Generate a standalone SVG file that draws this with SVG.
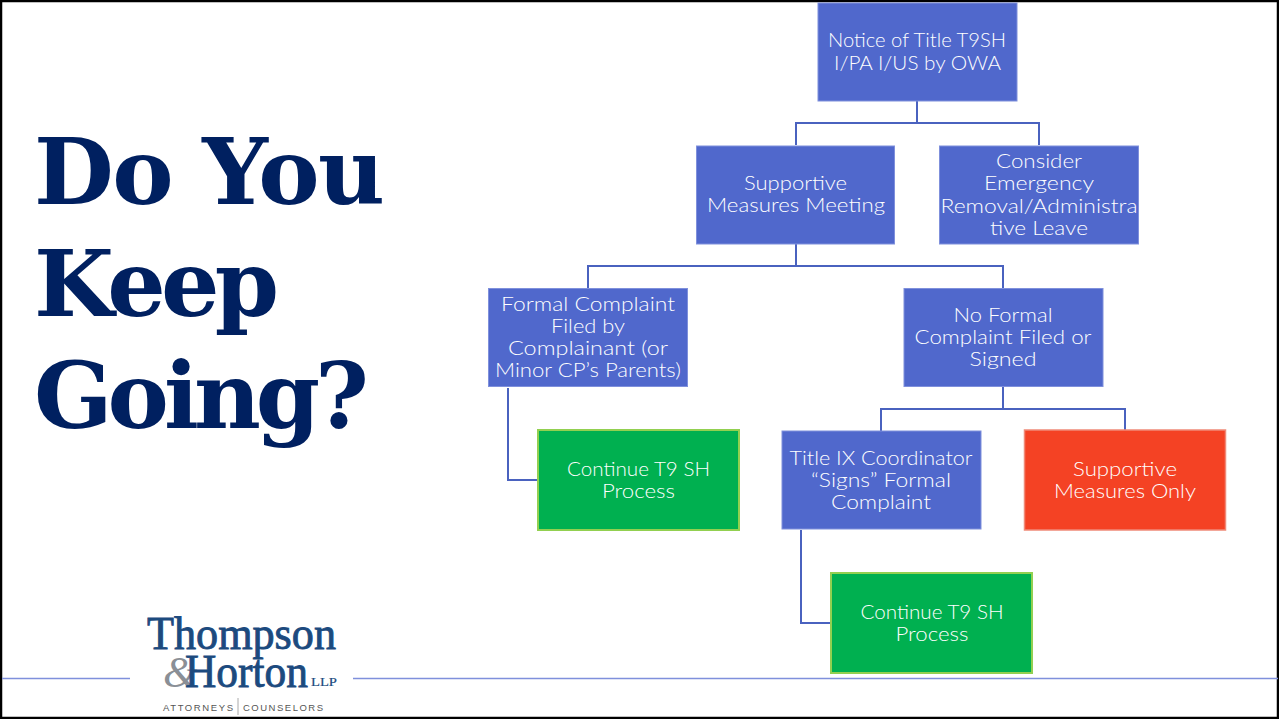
<svg xmlns="http://www.w3.org/2000/svg" width="1279" height="719" viewBox="0 0 1279 719">
<style>
.n{fill:#5068cc;stroke:#7f90dc;stroke-width:1}
.g{fill:#00b050;stroke:#92d050;stroke-width:2}
.r{fill:#f44224;stroke:#f08a78;stroke-width:1.5}
.t{font-family:"Lato","Open Sans",sans-serif;font-size:20px;font-weight:300;fill:#fff;text-anchor:middle}
.c{fill:none;stroke:#4a62bf;stroke-width:2}
.h{font-family:"DejaVu Serif","Liberation Serif",serif;font-weight:700;font-size:92px;fill:#002060}
.l{font-family:"Liberation Serif",serif;fill:#1c4a7e;stroke:#1c4a7e}
.s{font-family:"Liberation Sans",sans-serif;font-size:9.500px;fill:#555}
</style>
<rect x="1" y="1" width="1277" height="717" fill="#fff" stroke="#000" stroke-width="2.5"/>
<g id="title">
<text class="h" x="34" y="204" textLength="351" lengthAdjust="spacing">Do You</text>
<text class="h" x="34" y="316" textLength="245" lengthAdjust="spacing">Keep</text>
<text class="h" x="34" y="428" textLength="335" lengthAdjust="spacing">Going?</text>
</g>
<g id="connectors">
<path class="c" d="M917 101V123M796 145V123H1039V145"/>
<path class="c" d="M796 244V266M588 288V266H1003V288"/>
<path class="c" d="M1003 387V409M881 431V409H1125V431"/>
<path class="c" d="M508 388V480H538"/>
<path class="c" d="M801 530V623H831"/>
</g>
<g id="n1"><rect class="n" x="818" y="3" width="199" height="98"/><text class="t" x="917" y="47" textLength="178" lengthAdjust="spacingAndGlyphs">Notice of Title T9SH</text><text class="t" x="917.500" y="70" textLength="167" lengthAdjust="spacingAndGlyphs">I/PA I/US by OWA</text></g>
<g id="n2"><rect class="n" x="696.500" y="146" width="198" height="98"/><text class="t" x="795.500" y="190" textLength="103" lengthAdjust="spacingAndGlyphs">Supportive</text><text class="t" x="796" y="212" textLength="178" lengthAdjust="spacingAndGlyphs">Measures Meeting</text></g>
<g id="n3"><rect class="n" x="939.500" y="146" width="199" height="98"/><text class="t" x="1039" y="168" textLength="86" lengthAdjust="spacingAndGlyphs">Consider</text><text class="t" x="1039" y="190" textLength="110" lengthAdjust="spacingAndGlyphs">Emergency</text><text class="t" x="1039" y="213" textLength="197" lengthAdjust="spacingAndGlyphs">Removal/Administra</text><text class="t" x="1039" y="235" textLength="98" lengthAdjust="spacingAndGlyphs">tive Leave</text></g>
<g id="n4"><rect class="n" x="488.500" y="288.500" width="199" height="98"/><text class="t" x="588" y="311" textLength="174" lengthAdjust="spacingAndGlyphs">Formal Complaint</text><text class="t" x="588" y="333" textLength="74" lengthAdjust="spacingAndGlyphs">Filed by</text><text class="t" x="588" y="355" textLength="160" lengthAdjust="spacingAndGlyphs">Complainant (or</text><text class="t" x="588" y="377" textLength="186" lengthAdjust="spacingAndGlyphs">Minor CP’s Parents)</text></g>
<g id="n5"><rect class="n" x="904" y="288.500" width="199" height="98"/><text class="t" x="1003" y="322" textLength="99" lengthAdjust="spacingAndGlyphs">No Formal</text><text class="t" x="1003" y="344" textLength="177" lengthAdjust="spacingAndGlyphs">Complaint Filed or</text><text class="t" x="1003" y="366" textLength="67" lengthAdjust="spacingAndGlyphs">Signed</text></g>
<g id="n6"><rect class="g" x="538" y="430" width="201" height="100"/><text class="t" x="638.500" y="476" textLength="143" lengthAdjust="spacingAndGlyphs">Continue T9 SH</text><text class="t" x="638.500" y="498" textLength="73" lengthAdjust="spacingAndGlyphs">Process</text></g>
<g id="n7"><rect class="n" x="782" y="431" width="199" height="98"/><text class="t" x="881" y="465" textLength="183" lengthAdjust="spacingAndGlyphs">Title IX Coordinator</text><text class="t" x="881" y="487" textLength="140" lengthAdjust="spacingAndGlyphs">“Signs” Formal</text><text class="t" x="881" y="509" textLength="100" lengthAdjust="spacingAndGlyphs">Complaint</text></g>
<g id="n8"><rect class="r" x="1024.500" y="430" width="201" height="100"/><text class="t" x="1125" y="476" textLength="104" lengthAdjust="spacingAndGlyphs">Supportive</text><text class="t" x="1125" y="498" textLength="142" lengthAdjust="spacingAndGlyphs">Measures Only</text></g>
<g id="n9"><rect class="g" x="831" y="573" width="201" height="100"/><text class="t" x="932" y="619" textLength="143" lengthAdjust="spacingAndGlyphs">Continue T9 SH</text><text class="t" x="932" y="641" textLength="73" lengthAdjust="spacingAndGlyphs">Process</text></g>
<g id="footer">
<path d="M2 678.500H130M353 678.500H1278" stroke="#7f90dc" stroke-width="1.500" fill="none"/>
<text class="l" x="147" y="649" font-size="47" stroke-width="0.900" textLength="189" lengthAdjust="spacingAndGlyphs">Thompson</text>
<text x="163" y="687" font-family="Liberation Serif,serif" font-size="44" fill="#8a8f96" font-style="italic">&amp;</text>
<text class="l" x="185" y="687" font-size="47" stroke-width="0.900" textLength="123" lengthAdjust="spacingAndGlyphs">Horton</text>
<text class="l" x="311" y="686" font-size="13" stroke-width="0.200" textLength="26" lengthAdjust="spacingAndGlyphs">LLP</text>
<text class="s" x="163" y="711" textLength="70">ATTORNEYS</text>
<path d="M238 698V715" stroke="#aaa" stroke-width="1"/>
<text class="s" x="243" y="711" textLength="80">COUNSELORS</text>
</g>
</svg>
